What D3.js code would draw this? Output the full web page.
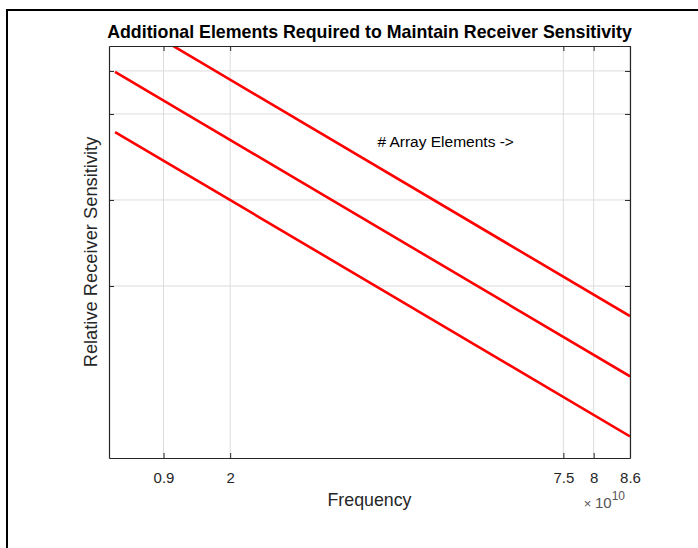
<!DOCTYPE html>
<html>
<head>
<meta charset="utf-8">
<script src="https://cdn.jsdelivr.net/npm/d3@7"></script>
<style>
  body { margin: 0; background: #fff; }
  text { font-family: "Liberation Sans", Arial, Helvetica, sans-serif; }
</style>
</head>
<body>
<div id="chart"></div>
<script>
// data (frequency in Hz, sensitivity in relative units)
const freqs = [1e9, 8.6e10];
const seriesA = [5.19, 1.65];   // top line (clipped by the axes)
const seriesB = [4.49, 0.95];
const seriesC = [3.79, 0.25];
const xTicks = [0.9e10, 2e10, 7.5e10, 8e10, 8.6e10];
const yTicks = [2, 3, 4, 4.5];

const margin = { top: 46, right: 68, bottom: 90, left: 109 },
  width = 698 - margin.left - margin.right,
  height = 548 - margin.top - margin.bottom;

const svg0 = d3.select("#chart")
  .append("svg")
  .attr("width", 698)
  .attr("height", 548);

// figure border (only top and left edges fall inside the window)
svg0.append("rect")
  .attr("x", 7).attr("y", 10)
  .attr("width", 700).attr("height", 560)
  .attr("fill", "none")
  .attr("stroke", "#000")
  .attr("stroke-width", 2);

const svg = svg0.append("g")
  .attr("transform", `translate(${margin.left},${margin.top})`);

const x = d3.scaleLinear().domain([0, 8.6e10]).range([0, width]);
const y = d3.scaleLinear().domain([0, 4.79]).range([height, 0]);

// grid
svg.append("g")
  .selectAll("line")
  .data(xTicks)
  .join("line")
  .attr("x1", d => x(d)).attr("x2", d => x(d))
  .attr("y1", 0).attr("y2", height)
  .attr("stroke", "#dcdcdc").attr("stroke-width", 1);

svg.append("g")
  .selectAll("line")
  .data(yTicks)
  .join("line")
  .attr("x1", 0).attr("x2", width)
  .attr("y1", d => y(d)).attr("y2", d => y(d))
  .attr("stroke", "#dcdcdc").attr("stroke-width", 1);

// lines
svg.append("clipPath").attr("id", "clip")
  .append("rect").attr("width", width).attr("height", height);

const line = d3.line()
  .x((d, i) => x(freqs[i]))
  .y(d => y(d));

svg.append("g")
  .attr("clip-path", "url(#clip)")
  .selectAll("path")
  .data([seriesA, seriesB, seriesC])
  .join("path")
  .attr("d", line)
  .attr("fill", "none")
  .attr("stroke", "#ff0000")
  .attr("stroke-width", 2.6);

// axes (MATLAB style: inward ticks, boxed)
const axColor = "#262626";
const xAxis = svg.append("g")
  .attr("transform", `translate(0,${height})`)
  .call(d3.axisBottom(x).tickValues(xTicks)
    .tickSizeInner(-5).tickSizeOuter(0).tickPadding(14)
    .tickFormat(d => d3.format("~g")(d / 1e10)));

const xAxisTop = svg.append("g")
  .call(d3.axisTop(x).tickValues(xTicks)
    .tickSizeInner(-5).tickSizeOuter(0).tickFormat(""));

const yAxis = svg.append("g")
  .call(d3.axisLeft(y).tickValues(yTicks)
    .tickSizeInner(-5).tickSizeOuter(0).tickFormat(""));

const yAxisRight = svg.append("g")
  .attr("transform", `translate(${width},0)`)
  .call(d3.axisRight(y).tickValues(yTicks)
    .tickSizeInner(-5).tickSizeOuter(0).tickFormat(""));

[xAxis, xAxisTop, yAxis, yAxisRight].forEach(g => {
  g.select(".domain").attr("stroke", axColor).attr("stroke-width", 1.2);
  g.selectAll(".tick line").attr("stroke", axColor);
});

xAxis.selectAll(".tick text")
  .attr("fill", axColor)
  .style("font-size", "15px")
  .style("font-family", "'Liberation Sans', Arial, sans-serif");

// exponent label
const expo = svg.append("text")
  .attr("x", width - 5)
  .attr("y", height + 50)
  .attr("text-anchor", "end")
  .attr("fill", "#555")
  .style("font-size", "15px");
expo.append("tspan").style("font-size", "13px").text("× ");
expo.append("tspan").text("10");
expo.append("tspan").attr("dy", -8).style("font-size", "12px").text("10");

// axis labels
svg.append("text")
  .attr("x", width / 2)
  .attr("y", height + 48)
  .attr("text-anchor", "middle")
  .attr("fill", axColor)
  .style("font-size", "17.8px")
  .text("Frequency");

svg.append("text")
  .attr("transform", `translate(-12,${height / 2}) rotate(-90)`)
  .attr("text-anchor", "middle")
  .attr("fill", axColor)
  .style("font-size", "18.3px")
  .text("Relative Receiver Sensitivity");

// title
svg.append("text")
  .attr("x", width / 2)
  .attr("y", -8)
  .attr("text-anchor", "middle")
  .attr("fill", "#000")
  .style("font-size", "17.8px")
  .style("font-weight", "bold")
  .text("Additional Elements Required to Maintain Receiver Sensitivity");

// annotation
svg.append("text")
  .attr("x", x(4.43e10))
  .attr("y", y(3.62))
  .attr("fill", "#000")
  .style("font-size", "15.5px")
  .text("# Array Elements ->");
</script>
</body>
</html>
